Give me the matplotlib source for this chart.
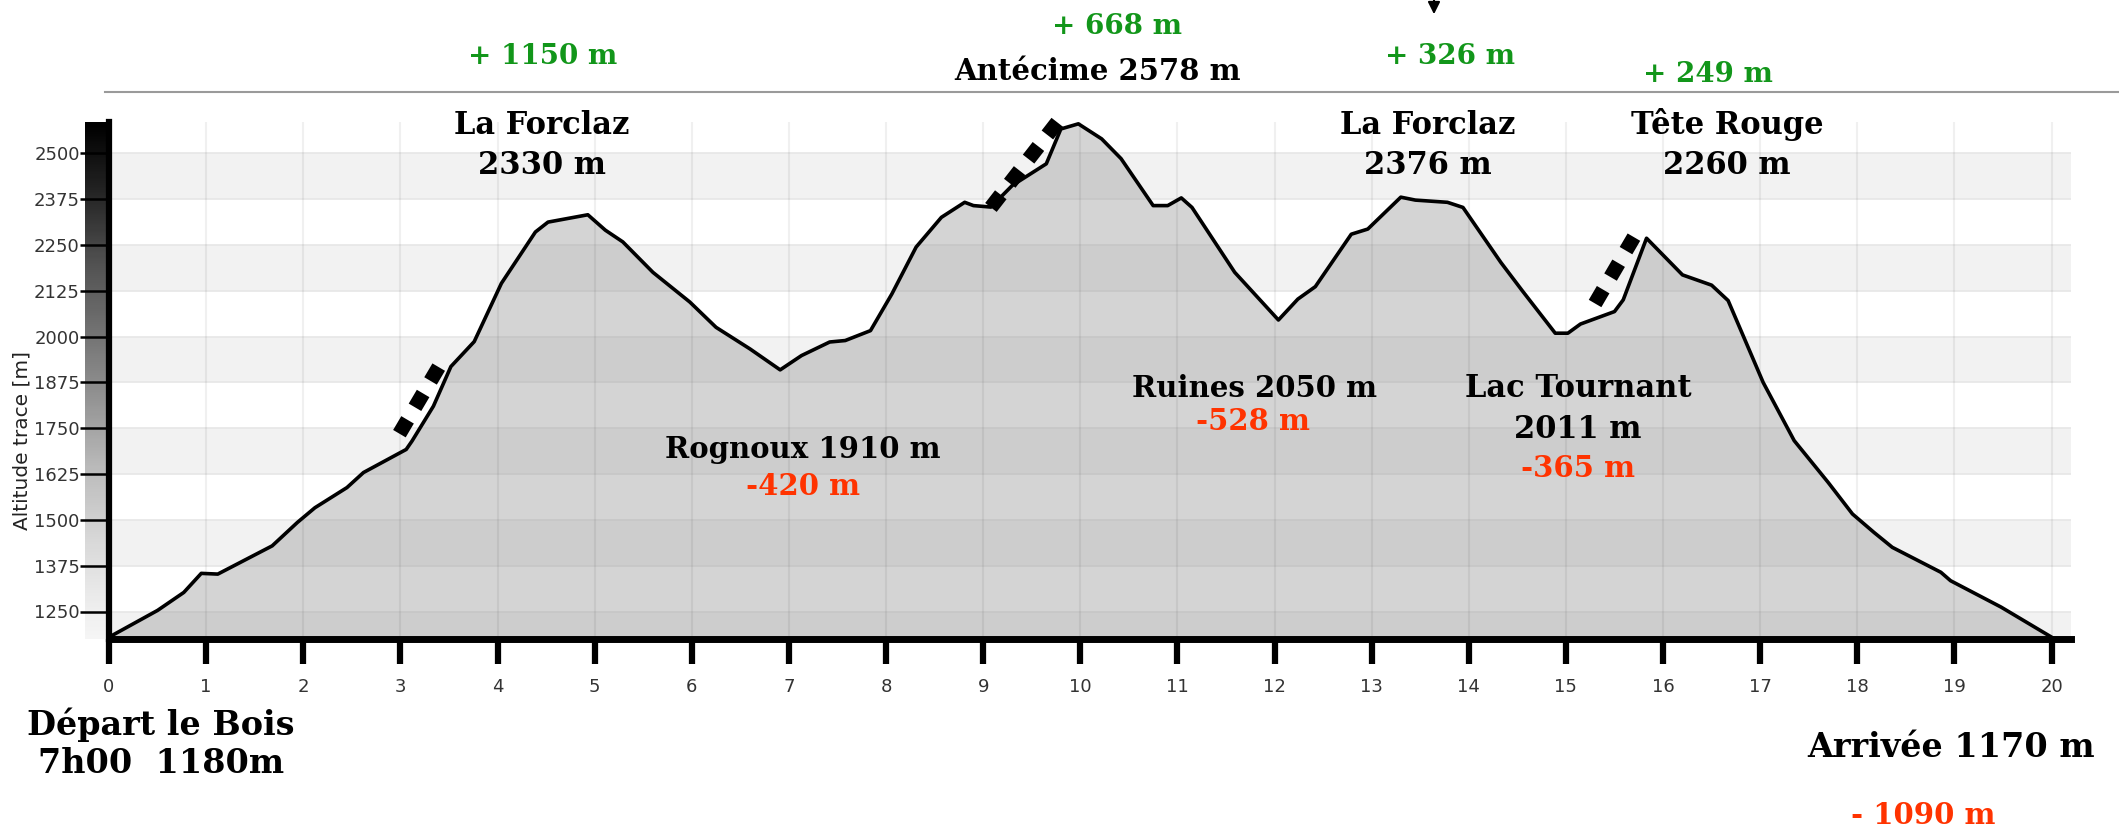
import numpy as np
import matplotlib.pyplot as plt
from matplotlib.lines import Line2D

# Profil altimétrique (km, altitude en m)
km = [0, 0.5, 0.77, 0.95, 1.12, 1.68, 1.94, 2.12, 2.45, 2.62, 3.06, 3.12, 3.34, 3.52,
      3.76, 4.04, 4.39, 4.52, 4.93, 5.11, 5.29, 5.6, 5.98, 6.25, 6.6, 6.91, 7.13, 7.42,
      7.58, 7.84, 8.06, 8.31, 8.57, 8.81, 8.9, 9.08, 9.3, 9.65, 9.8, 9.98, 10.22, 10.42,
      10.75, 10.9, 11.04, 11.15, 11.59, 12.04, 12.24, 12.42, 12.79, 12.96, 13.3, 13.45,
      13.78, 13.94, 14.33, 14.55, 14.89, 15.02, 15.15, 15.5, 15.59, 15.83, 16.2, 16.5,
      16.67, 17.03, 17.35, 17.7, 17.95, 18.17, 18.36, 18.86, 18.96, 19.48, 20.0]
alt = [1180, 1253, 1302, 1354, 1352, 1429, 1493, 1533, 1588, 1629, 1692, 1715, 1810, 1918,
       1986, 2145, 2285, 2312, 2332, 2290, 2258, 2175, 2094, 2025, 1966, 1909, 1948, 1985,
       1989, 2016, 2116, 2244, 2325, 2366, 2357, 2353, 2412, 2471, 2566, 2580, 2539, 2485,
       2357, 2357, 2378, 2352, 2175, 2045, 2102, 2136, 2279, 2293, 2380, 2372,
       2366, 2352, 2202, 2125, 2009, 2009, 2034, 2068, 2100, 2268, 2168, 2140,
       2098, 1875, 1716, 1602, 1516, 1466, 1425, 1357, 1334, 1262, 1180]

yticks = [1250, 1375, 1500, 1625, 1750, 1875, 2000, 2125, 2250, 2375, 2500]
xticks = list(range(0, 21))

# passages raides (pointillés)
steep_x = [[2.99, 3.4], [9.08, 9.78], [15.3, 15.70]]
steep_y = [[1735, 1919], [2352, 2590], [2090, 2271]]

# étiquettes : texte, x px, y px (ligne de base), couleur, taille
GREEN = '#12961a'
RED = '#ff3300'
labels = [
    ("+ 1150 m", 543, 64, GREEN, 20),
    ("+ 668 m", 1117, 34, GREEN, 20),
    ("Antécime 2578 m", 1097, 80, 'black', 21),
    ("+ 326 m", 1450, 64, GREEN, 20),
    ("+ 249 m", 1708, 82, GREEN, 20),
    ("La Forclaz", 542, 134, 'black', 22),
    ("2330 m", 542, 174, 'black', 22),
    ("La Forclaz", 1428, 134, 'black', 22),
    ("2376 m", 1428, 174, 'black', 22),
    ("Tête Rouge", 1727, 134, 'black', 22),
    ("2260 m", 1727, 174, 'black', 22),
    ("Ruines 2050 m", 1254, 397, 'black', 21),
    ("-528 m", 1253, 430, RED, 21),
    ("Lac Tournant", 1578, 397, 'black', 22),
    ("2011 m", 1578, 438, 'black', 22),
    ("-365 m", 1578, 477, RED, 21),
    ("Rognoux 1910 m", 803, 458, 'black', 21),
    ("-420 m", 803, 495, RED, 21),
    ("Départ le Bois", 161, 735, 'black', 24),
    ("7h00  1180m", 161, 773, 'black', 24),
    ("Arrivée 1170 m", 1951, 757, 'black', 24),
    ("- 1090 m", 1923, 824, RED, 21),
]

W, H = 2119, 831
fig = plt.figure(figsize=(W / 100, H / 100), dpi=100)

ax_l, ax_b = 109 / W, 1 - 639 / H
ax_w, ax_h = 2071 / W - ax_l, (639 - 122) / H
ymin, ymax = 1175, 2585

# barre dégradée à gauche
cax = fig.add_axes([85 / W, ax_b, 23 / W, ax_h], zorder=0)
grad = np.linspace(0.08, 1.0, 256).reshape(-1, 1)
cax.imshow(grad, aspect='auto', cmap='Greys', vmin=0, vmax=1, origin='lower')
cax.axis('off')

ax = fig.add_axes([ax_l, ax_b, ax_w, ax_h], zorder=1)
ax.set_facecolor('none')
ax.set_xlim(0, 20.2)
ax.set_ylim(ymin, ymax)

# bandes grises alternées
bands = [ymin] + yticks
for i in range(0, len(bands) - 1, 2):
    ax.axhspan(bands[i], bands[i + 1], color='#f2f2f2', lw=0, zorder=0)
for y in yticks:
    ax.axhline(y, color='#e6e6e6', lw=1.2, zorder=0.5)
for x in xticks:
    ax.axvline(x, color='black', alpha=0.06, lw=1.5, zorder=2.5)

ax.fill_between(km, alt, ymin, color='#a0a0a0', alpha=0.45, lw=0, zorder=2)
ax.plot(km, alt, color='black', lw=2.6, zorder=3)

for sx, sy in zip(steep_x, steep_y):
    ax.plot(sx, sy, color='black', lw=10.5, dashes=(1.1, 1.0), solid_capstyle='butt',
            dash_capstyle='butt', zorder=4, clip_on=False)

for s in ['top', 'right']:
    ax.spines[s].set_visible(False)
ax.spines['bottom'].set_linewidth(5)
ax.spines['left'].set_linewidth(4.5)
ax.set_xticks(xticks)
ax.set_yticks(yticks)
ax.tick_params(axis='x', length=18, width=4.5, colors='black', labelcolor='#333333',
               labelsize=13, pad=10)
ax.tick_params(axis='y', length=21, width=1.8, colors='black', labelcolor='#333333',
               labelsize=13, pad=0)

fig.text(22 / W, 1 - 440 / H, "Altitude trace [m]", rotation=90, ha='center',
         va='center', fontsize=14.5, color='#222222')

fig.add_artist(Line2D([105 / W, 1], [1 - 92 / H] * 2, color='#9a9a9a', lw=1.5))

ax.annotate('', xy=(1434 / W, 1 - 17 / H), xytext=(1434 / W, 1.03),
            xycoords='figure fraction', textcoords='figure fraction',
            arrowprops=dict(arrowstyle='-|>', color='black', lw=1.5, mutation_scale=18))

for txt, px, py, col, fs in labels:
    fig.text(px / W, 1 - py / H, txt, ha='center', va='baseline', color=col,
             fontsize=fs, fontweight='bold', family='DejaVu Serif')

fig.savefig('out.png', dpi=100)
